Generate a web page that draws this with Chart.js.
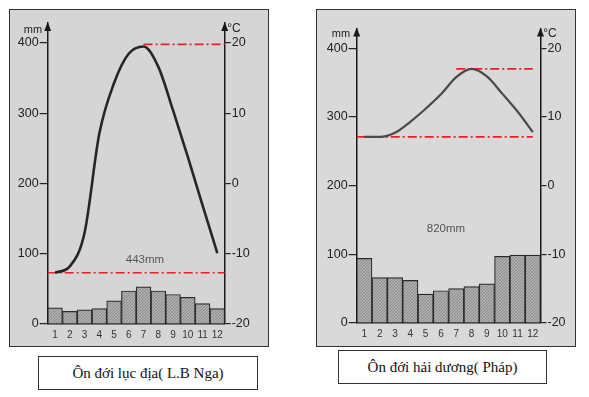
<!DOCTYPE html>
<html>
<head>
<meta charset="utf-8">
<script src="https://cdn.jsdelivr.net/npm/chart.js@4.4.1/dist/chart.umd.min.js"></script>
<style>
  html, body { margin:0; padding:0; background:#fff; width:589px; height:397px; overflow:hidden; }
  .frame { position:absolute; box-sizing:border-box; border:1.5px solid #333; }
  canvas { position:absolute; }
  .lbl { position:absolute; font-family:"Liberation Sans", Arial, sans-serif; color:#222; white-space:nowrap; transform:translate(-50%,-50%); }
  .cap { position:absolute; box-sizing:border-box; border:1px solid #333; background:#fff;
         font-family:"Liberation Serif", "Times New Roman", serif; font-size:15px; color:#111;
         display:flex; align-items:center; justify-content:center; }
</style>
</head>
<body>
<div class="frame" style="left:9px;top:9px;width:260px;height:338px;background:#d5d5d5;"></div>
<div class="frame" style="left:316px;top:9px;width:260px;height:338px;background:#d9d9d9;"></div>
<canvas id="c1" width="260" height="337" style="left:9px;top:10px;"></canvas>
<canvas id="c2" width="259" height="337" style="left:317px;top:10px;"></canvas>
<div class="lbl" style="left:33px;top:29px;font-size:11px;">mm</div>
<div class="lbl" style="left:234px;top:28px;font-size:12px;">°C</div>
<div class="lbl" style="left:341px;top:33px;font-size:11px;">mm</div>
<div class="lbl" style="left:550px;top:33px;font-size:12px;">°C</div>
<div class="lbl" style="left:145px;top:259px;font-size:11.5px;color:#555;">443mm</div>
<div class="lbl" style="left:446px;top:228px;font-size:11.5px;color:#555;">820mm</div>
<div class="cap" style="left:38px;top:356px;width:220px;height:34px;">Ôn đới lục địa( L.B Nga)</div>
<div class="cap" style="left:338px;top:350px;width:209px;height:34px;">Ôn đới hải dương( Pháp)</div>
<script>
// ---- data ----
const months = ['1','2','3','4','5','6','7','8','9','10','11','12'];
const rainLeft  = [23, 18, 20, 22, 33, 47, 53, 47, 42, 38, 29, 22];
const tempLeft  = [-12.7, -11.8, -7, 7.1, 14.3, 18.5, 19.5, 16.6, 10.4, 3.8, -3.1, -9.9];
const rainRight = [94, 66, 66, 62, 42, 47, 50, 53, 57, 97, 99, 99];
const tempRight = [7.1, 7.1, 7.7, 9.3, 11.2, 13.3, 15.8, 17.0, 15.9, 13.4, 10.8, 7.8];
const mmTicks   = [0, 100, 200, 300, 400];
const tempTicks = [-20, -10, 0, 10, 20];
// reference lines (temperature level, month span)
const leftMaxLine  = { t: 19.8,  from: 7,   to: 12.5 };
const leftMinLine  = { t: -12.7, from: 0.5, to: 12.5 };
const rightMaxLine = { t: 17.0,  from: 7,   to: 12 };
const rightMinLine = { t: 7.1,   from: 0.5, to: 12 };

Chart.defaults.font.family = '"Liberation Sans", Arial, sans-serif';
Chart.defaults.devicePixelRatio = 1;

function hatch() {
  const p = document.createElement('canvas');
  p.width = 3; p.height = 3;
  const g = p.getContext('2d');
  g.fillStyle = '#adadad'; g.fillRect(0,0,3,3);
  g.fillStyle = '#8c8c8c';
  g.fillRect(2,0,1,1); g.fillRect(1,1,1,1); g.fillRect(0,2,1,1);
  return document.getElementById('c1').getContext('2d').createPattern(p, 'repeat');
}

const arrows = {
  id: 'arrows',
  afterDraw(chart) {
    const ctx = chart.ctx, a = chart.chartArea;
    ctx.save();
    ctx.fillStyle = '#1a1a1a';
    [a.left, a.right].forEach(x => {
      ctx.beginPath();
      ctx.moveTo(x, a.top - 1);
      ctx.lineTo(x - 3.5, a.top + 8);
      ctx.lineTo(x + 3.5, a.top + 8);
      ctx.closePath();
      ctx.fill();
    });
    ctx.restore();
  }
};

function refLine(l) {
  return {
    type: 'line', xAxisID: 'x2', yAxisID: 'yT',
    data: [{x: l.from, y: l.t}, {x: l.to, y: l.t}],
    borderColor: '#e8202a', borderWidth: 1.6, borderDash: [9, 3, 2, 3],
    pointRadius: 0, clip: false, order: 1
  };
}

function make(id, o) {
  const yMax = o.area / o.pxPerMm;
  const tMax = -20 + yMax / 10;
  new Chart(document.getElementById(id), {
    type: 'bar',
    data: {
      labels: months,
      datasets: [
        { type: 'line', data: o.temp, yAxisID: 'yT', xAxisID: 'x',
          borderColor: o.lineColor, borderWidth: o.lineWidth, pointRadius: 0,
          tension: 0.4, cubicInterpolationMode: 'monotone', order: 0 },
        refLine(o.maxL), refLine(o.minL),
        { type: 'bar', data: o.rain, yAxisID: 'y', xAxisID: 'x',
          backgroundColor: hatch(), borderColor: '#2a2a2a', borderWidth: 1.2,
          barPercentage: 1, categoryPercentage: 1, grouped: false, order: 5 }
      ]
    },
    options: {
      responsive: false, animation: false, devicePixelRatio: 1,
      layout: { padding: { top: o.top, left: 0, right: 0, bottom: 0 } },
      plugins: { legend: { display: false }, tooltip: { enabled: false } },
      scales: {
        x: {
          type: 'category', offset: true,
          grid: { drawOnChartArea: false, drawTicks: false, offset: true },
          border: { display: true, color: '#1a1a1a', width: 1.5 },
          ticks: { font: { size: 10 }, color: '#333', padding: 5, maxRotation: 0, autoSkip: false },
          afterFit(s) { s.height = o.xH; }
        },
        x2: { type: 'linear', axis: 'x', position: 'bottom', min: 0.5, max: 12.5, offset: false,
              grid: { offset: false }, display: false },
        y: {
          position: 'left', min: 0, max: yMax,
          afterBuildTicks(s) { s.ticks = mmTicks.map(v => ({ value: v })); },
          grid: { drawOnChartArea: false, drawTicks: true, tickLength: 8, color: '#222', lineWidth: 1.2 },
          border: { display: true, color: '#1a1a1a', width: 1.5 },
          ticks: { font: { size: 12.5 }, color: '#222', padding: 1 },
          afterFit(s) { s.width = o.yW; }
        },
        yT: {
          position: 'right', min: -20, max: tMax,
          afterBuildTicks(s) { s.ticks = tempTicks.map(v => ({ value: v })); },
          grid: { drawOnChartArea: false, drawTicks: true, tickLength: 6, color: '#222', lineWidth: 1.2 },
          border: { display: true, color: '#1a1a1a', width: 1.5 },
          ticks: { font: { size: 12.5 }, color: '#222', padding: 1 },
          afterFit(s) { s.width = o.yTW; }
        }
      }
    },
    plugins: [arrows]
  });
}

make('c1', { rain: rainLeft, temp: tempLeft, maxL: leftMaxLine, minL: leftMinLine,
  top: 13, area: 301, pxPerMm: 0.7025, xH: 23, yW: 38.7, yTW: 44.3,
  lineColor: '#262626', lineWidth: 2.6 });
make('c2', { rain: rainRight, temp: tempRight, maxL: rightMaxLine, minL: rightMinLine,
  top: 18.5, area: 294.5, pxPerMm: 0.6867, xH: 24, yW: 39.7, yTW: 35.5,
  lineColor: '#4a4a4a', lineWidth: 2.2 });
</script>
</body>
</html>
